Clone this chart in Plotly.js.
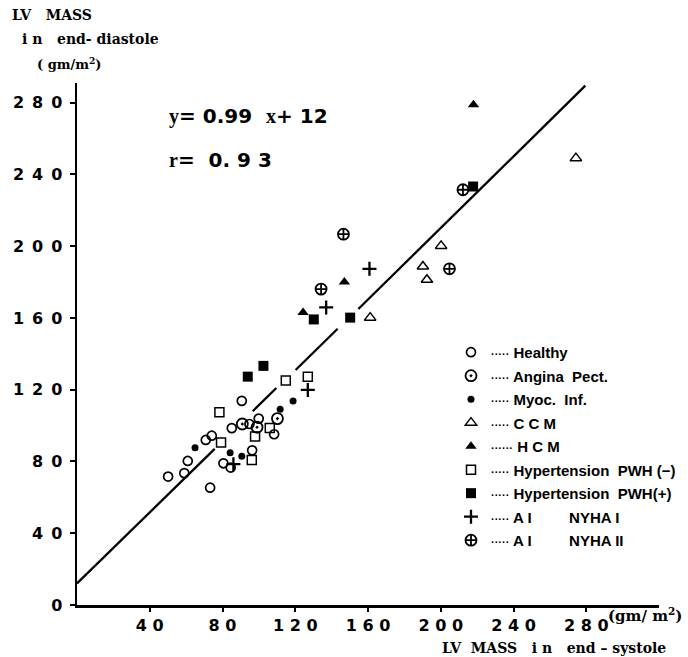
<!DOCTYPE html>
<html>
<head>
<meta charset="utf-8">
<script src="https://cdn.plot.ly/plotly-3.0.1.min.js"></script>
<style>
  html, body { margin: 0; padding: 0; background: #fff; }
  #chart { width: 688px; height: 657px; }
</style>
</head>
<body>
<div id="chart"></div>
<script>
// ---- Data (LV mass, gm/m^2) ----
// x = end-systole, y = end-diastole
const healthyX = [50.1, 59.0, 60.9, 70.8, 74.1, 73.2, 80.5, 84.5, 85.1, 90.6, 94.8, 96.3, 99.9, 108.4];
const healthyY = [71.6, 73.5, 80.3, 92.0, 94.4, 65.4, 79.0, 76.6, 98.6, 113.8, 100.9, 86.2, 103.9, 95.2];

const anginaX = [90.9, 99.0, 110.2];
const anginaY = [100.9, 99.1, 103.9];

const myocX = [64.9, 84.2, 90.6, 111.7, 118.8];
const myocY = [87.7, 84.9, 82.9, 109.1, 113.7];

const ccmX = [161.2, 190.2, 192.4, 200.2, 274.3];
const ccmY = [160.2, 188.7, 181.3, 200.2, 249.1];

const hcmX = [124.3, 147.0, 218.0];
const hcmY = [163.1, 180.0, 278.9];

const hypNegX = [78.3, 79.2, 96.1, 97.9, 106.0, 114.8, 126.9];
const hypNegY = [107.5, 90.6, 80.9, 93.9, 98.7, 125.1, 127.2];

const hypPosX = [93.9, 102.5, 130.2, 150.2, 217.8];
const hypPosY = [127.3, 133.3, 159.2, 160.2, 233.3];

const ai1X = [86.0, 126.9, 137.0, 160.8];
const ai1Y = [78.5, 119.9, 165.9, 187.4];

const ai2X = [134.2, 146.5, 204.8, 212.2];
const ai2Y = [176.1, 206.7, 187.4, 231.5];

// regression line y = 0.99x + 12, drawn broken where it passes markers
const fitX = [0, 75.7, null, 96.6, 109.6, null, 120.2, 143.3, null, 154.7, 279.5];
const fitY = [12, 87, null, 108, 121, null, 131, 154, null, 165, 289.5];

const xTickVals = [40, 80, 120, 160, 200, 240, 280];
const xTickText = ["4 0", "8 0", "1 2 0", "1 6 0", "2 0 0", "2 4 0", "2 8 0"];
const yTickVals = [0, 40, 80, 120, 160, 200, 240, 280];
const yTickText = ["0", "4\u20020", "8\u20020", "1\u20022\u20020", "1\u20026\u20020", "2\u20020\u20020", "2\u20024\u20020", "2\u20028\u20020"];

const NB = "\u00a0";
const DOTS = '<span style="font-size:11px">\u00b7\u00b7\u00b7\u00b7\u00b7</span>';
const DOTS6 = '<span style="font-size:11px">\u00b7\u00b7\u00b7\u00b7\u00b7\u00b7</span>';
const seriesNames = [
  DOTS + " Healthy",
  DOTS + " Angina" + NB + " Pect.",
  DOTS + " Myoc." + NB + " Inf.",
  DOTS + " C C M",
  DOTS6 + " H C M",
  DOTS + " Hypertension" + NB + " PWH (\u2212)",
  DOTS + " Hypertension" + NB + " PWH(+)",
  DOTS + " A I" + NB.repeat(8) + " NYHA I",
  DOTS + " A I" + NB.repeat(8) + " NYHA II"
];

// ---- Traces ----
function pts(x, y, name, symbol, size, lw, grp) {
  return {
    type: 'scatter', mode: 'markers', x: x, y: y, name: name,
    legendgroup: grp,
    marker: { symbol: symbol, size: size, color: '#000', line: { color: '#000', width: lw } },
    cliponaxis: false, hoverinfo: 'x+y'
  };
}

const traces = [
  { type: 'scatter', mode: 'lines', x: fitX, y: fitY, showlegend: false,
    line: { color: '#000', width: 2.3 }, connectgaps: false, hoverinfo: 'skip' },
  pts(healthyX, healthyY, seriesNames[0], 'circle-open', 9, 1.7, 'g1'),
  pts(anginaX, anginaY, seriesNames[1], 'circle-open-dot', 11, 1.8, 'g2'),
  pts(myocX, myocY, seriesNames[2], 'circle', 7, 0, 'g3'),
  pts(ccmX, ccmY, seriesNames[3], 'triangle-up-open', 10, 1.5, 'g4'),
  pts(hcmX, hcmY, seriesNames[4], 'triangle-up', 10, 0, 'g5'),
  pts(hypNegX, hypNegY, seriesNames[5], 'square-open', 9, 1.5, 'g6'),
  pts(hypPosX, hypPosY, seriesNames[6], 'square', 10, 0, 'g7'),
  pts(ai1X, ai1Y, seriesNames[7], 'cross-thin-open', 10, 2.3, 'g8'),
  pts(ai2X, ai2Y, seriesNames[8], 'circle-cross-open', 11, 1.8, 'g9')
];

const serif = 'DejaVu Serif, Liberation Serif, serif';
const sansBold = 'DejaVu Sans, Liberation Sans, sans-serif';

const layout = {
  width: 688, height: 657,
  margin: { l: 77, r: 29, t: 83, b: 52, autoexpand: false },
  paper_bgcolor: '#fff', plot_bgcolor: '#fff',
  showlegend: true,
  font: { family: sansBold, color: '#000' },
  xaxis: {
    range: [0, 320], showgrid: false, zeroline: false,
    showline: true, linecolor: '#000', linewidth: 2.5,
    ticks: 'outside', ticklen: 4, tickwidth: 2, tickcolor: '#000',
    tickvals: xTickVals, ticktext: xTickText,
    tickfont: { family: sansBold, size: 16, weight: 'bold', color: '#000' }
  },
  yaxis: {
    range: [0, 291], showgrid: false, zeroline: false,
    showline: true, linecolor: '#000', linewidth: 2.5,
    ticks: 'outside', ticklen: 5, tickwidth: 2, tickcolor: '#000',
    ticklabelstandoff: 4,
    tickvals: yTickVals, ticktext: yTickText,
    tickfont: { family: sansBold, size: 16, weight: 'bold', color: '#000' }
  },
  legend: {
    x: 0.6426, xanchor: 'left', y: 0.5155, yanchor: 'top',
    bgcolor: 'rgba(0,0,0,0)', borderwidth: 0,
    tracegroupgap: 1, itemwidth: 30,
    font: { family: 'Liberation Sans, Arial, sans-serif', size: 15, weight: 'bold', color: '#000' }
  },
  annotations: [
    { xref: 'paper', yref: 'paper', x: -0.1151, y: 1.1303, xanchor: 'left', yanchor: 'middle', showarrow: false,
      text: 'LV\u00a0\u00a0 MASS', font: { family: serif, size: 14, weight: 'bold', color: '#000' } },
    { xref: 'paper', yref: 'paper', x: -0.0979, y: 1.0843, xanchor: 'left', yanchor: 'middle', showarrow: false,
      text: 'i n\u00a0\u00a0 end- diastole', font: { family: serif, size: 14, weight: 'bold', color: '#000' } },
    { xref: 'paper', yref: 'paper', x: -0.0722, y: 1.0364, xanchor: 'left', yanchor: 'middle', showarrow: false,
      text: '( gm/m<sup>2</sup>)', font: { family: serif, size: 13, weight: 'bold', color: '#000' } },
    { xref: 'paper', yref: 'paper', x: 0.6237, y: -0.0824, xanchor: 'left', yanchor: 'middle', showarrow: false,
      text: 'LV\u00a0 MASS\u00a0\u00a0 i n\u00a0\u00a0 end \u2013 systole', font: { family: serif, size: 14, weight: 'bold', color: '#000' } },
    { xref: 'paper', yref: 'paper', x: 0.9089, y: -0.0192, xanchor: 'left', yanchor: 'middle', showarrow: false,
      text: '(gm/\u00a0m<sup>2</sup>)', font: { family: serif, size: 15, weight: 'bold', color: '#000' } },
    { xref: 'paper', yref: 'paper', x: 0.1546, y: 0.9367, xanchor: 'left', yanchor: 'middle', showarrow: false,
      text: '<span style="font-family:Liberation Serif">y</span>= 0.99\u00a0 <span style="font-family:Liberation Serif">x</span>+ 12',
      font: { family: sansBold, size: 20, weight: 'bold', color: '#000' } },
    { xref: 'paper', yref: 'paper', x: 0.1546, y: 0.8524, xanchor: 'left', yanchor: 'middle', showarrow: false,
      text: '<span style="font-family:Liberation Serif">r</span>=\u00a0 0. 9 3',
      font: { family: sansBold, size: 20, weight: 'bold', color: '#000' } }
  ]
};

Plotly.newPlot('chart', traces, layout, { staticPlot: true, displayModeBar: false });
</script>
</body>
</html>
